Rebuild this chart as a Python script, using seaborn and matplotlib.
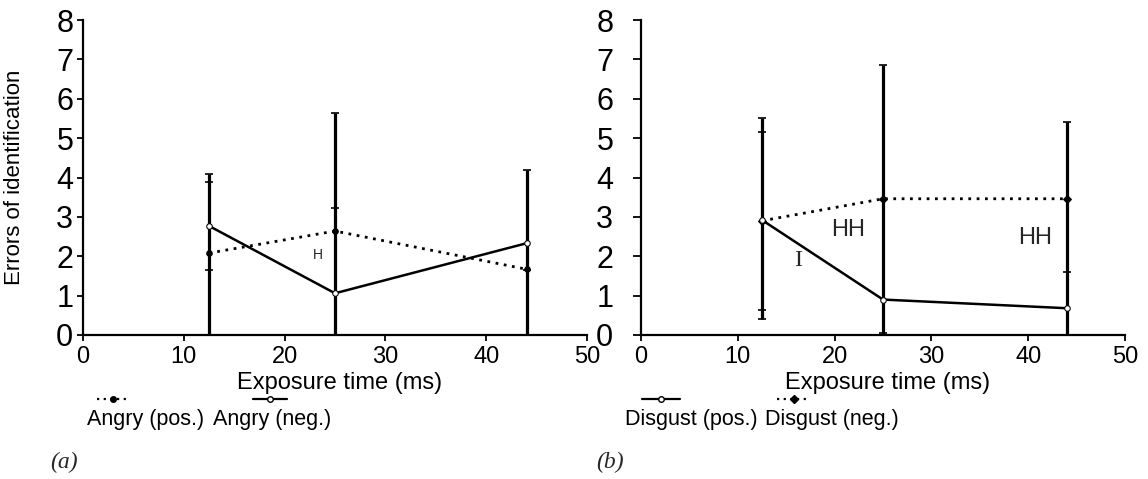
### Errors of identification vs exposure time, two panels (angry / disgust)

import numpy as np
import matplotlib
matplotlib.use("Agg")
import matplotlib.pyplot as plt
from matplotlib.lines import Line2D
import seaborn as sns

# exposure times (ms)
time = [12.5, 25, 44]

# panel (a) means
angry_pos = [2.08, 2.64, 1.67]
angry_neg = [2.77, 1.06, 2.33]
# panel (a) error bars (low / high) and extra small cap marks
bar_lo_a = [0, 0, 0]
bar_hi_a = [4.1, 5.65, 4.2]
caps_a = [[4.1, 3.88, 1.65], [5.65, 3.22], [4.2, 1.65]]

# panel (b) means
disgust_pos = [2.92, 0.9, 0.68]
disgust_neg = [2.9, 3.46, 3.46]
bar_lo_b = [0.4, 0, 0]
bar_hi_b = [5.5, 6.85, 5.4]
caps_b = [[5.5, 5.15, 0.63, 0.4], [6.85, 0.05], [5.4, 1.6]]

x_ticks = [0, 10, 20, 30, 40, 50]
y_ticks = [0, 1, 2, 3, 4, 5, 6, 7, 8]

sns.set_theme(style="white")
plt.rcParams['font.family'] = ['Liberation Sans', 'DejaVu Sans']

DOT = (0, (1, 2))

fig = plt.figure(figsize=(11.48, 4.79), dpi=100)
W, H = 1148, 479


def px_axes(l, r, t, b):
    return fig.add_axes([l / W, 1 - b / H, (r - l) / W, (b - t) / H])


ax_a = px_axes(83, 587, 20, 335)
ax_b = px_axes(641, 1125, 20, 335)


def draw_bars(ax, lo, hi, caps):
    ax.vlines(time, lo, hi, color='black', lw=2.3, zorder=2)
    for t, cs in zip(time, caps):
        ax.scatter([t] * len(cs), cs, marker='_', s=30, color='black',
                   linewidths=1.2, zorder=3)


def style_axes(ax, tick_len, ypad):
    ax.set_xlim(0, 50)
    ax.set_ylim(0, 8)
    ax.set_xticks(x_ticks)
    ax.set_yticks(y_ticks)
    sns.despine(ax=ax)
    for s in ['left', 'bottom']:
        ax.spines[s].set_color('black')
        ax.spines[s].set_linewidth(1.6)
    ax.tick_params(axis='both', direction='out', colors='black', width=1.3,
                   bottom=True, left=True)
    ax.tick_params(axis='y', labelsize=22, length=tick_len, pad=ypad)
    ax.tick_params(axis='x', labelsize=17, length=4, pad=4)
    ax.set_xlabel("Exposure time (ms)", fontsize=17, color='black')
    ax.xaxis.set_label_coords(0.51, -0.118)
    ax.set_facecolor('white')


# ---- panel (a)
draw_bars(ax_a, bar_lo_a, bar_hi_a, caps_a)
sns.lineplot(x=time, y=angry_pos, ax=ax_a, color='black', lw=2.0,
             linestyle=DOT, marker='o', markersize=4, markeredgecolor='black')
sns.lineplot(x=time, y=angry_neg, ax=ax_a, color='black', lw=1.8,
             marker='o', markersize=4, markerfacecolor='white',
             markeredgecolor='black')
ax_a.text(23.3, 2.03, "H", fontsize=10, ha='center', va='center')
style_axes(ax_a, 4, 3)
ax_a.set_ylabel("Errors of identification", fontsize=16, color='black')
ax_a.yaxis.set_label_coords(-0.115, 0.5)

# ---- panel (b)
draw_bars(ax_b, bar_lo_b, bar_hi_b, caps_b)
sns.lineplot(x=time, y=disgust_neg, ax=ax_b, color='black', lw=2.0,
             linestyle=DOT, marker='D', markersize=4, markeredgecolor='black')
sns.lineplot(x=time, y=disgust_pos, ax=ax_b, color='black', lw=1.8,
             marker='o', markersize=4, markerfacecolor='white',
             markeredgecolor='black')
ax_b.text(21.4, 2.66, "HH", fontsize=17, ha='center', va='center')
ax_b.text(40.7, 2.46, "HH", fontsize=17, ha='center', va='center')
ax_b.text(16.2, 1.88, "I", fontsize=17, ha='center', va='center',
          family='Liberation Serif')
style_axes(ax_b, 6, 14)
ax_b.set_ylabel("")


# ---- legends: handle drawn above each label
def legend_entry(x0, x1, tx, label, ls, marker, mfc):
    yh = 1 - 399 / H
    fig.add_artist(Line2D([x0 / W, x1 / W], [yh, yh], transform=fig.transFigure,
                          color='black', lw=1.6, linestyle=ls))
    fig.add_artist(Line2D([(x0 + x1) / 2 / W], [yh], transform=fig.transFigure,
                          marker=marker, markersize=4, color='black',
                          markerfacecolor=mfc, linestyle='none'))
    fig.text(tx / W, 1 - 419 / H, label, fontsize=15.5, ha='left',
             va='center', color='black')


legend_entry(97, 128, 87, "Angry (pos.)", DOT, 'o', 'black')
legend_entry(253, 287, 213, "Angry (neg.)", '-', 'o', 'white')
legend_entry(642, 680, 625, "Disgust (pos.)", '-', 'o', 'white')
legend_entry(777, 810, 765, "Disgust (neg.)", DOT, 'D', 'black')

fig.text(64 / W, 1 - 462 / H, "(a)", fontsize=17, style='italic',
         family='Liberation Serif', ha='center', va='center')
fig.text(610 / W, 1 - 462 / H, "(b)", fontsize=17, style='italic',
         family='Liberation Serif', ha='center', va='center')

fig.savefig("out.png", dpi=100, facecolor='white')
